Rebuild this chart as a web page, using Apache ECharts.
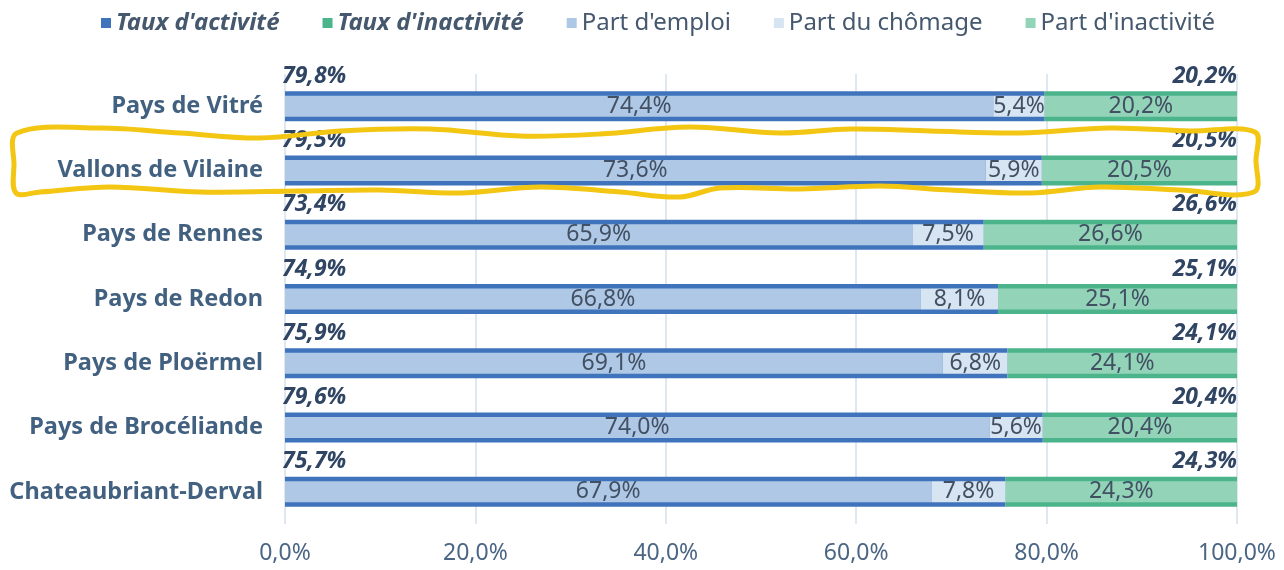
<!DOCTYPE html>
<html>
<head>
<meta charset="utf-8">
<script src="https://cdn.jsdelivr.net/npm/echarts@6/dist/echarts.min.js"></script>
<style>
  html, body { margin: 0; padding: 0; background: #fff; }
  #chart { width: 1284px; height: 570px; }
</style>
</head>
<body>
<div id="chart"></div>
<script>
// Categories, top to bottom
const territoires = [
  'Pays de Vitré',
  'Vallons de Vilaine',
  'Pays de Rennes',
  'Pays de Redon',
  'Pays de Ploërmel',
  'Pays de Brocéliande',
  'Chateaubriant-Derval'
]

// Outer bars (rates)
const tauxActivite = [79.8, 79.5, 73.4, 74.9, 75.9, 79.6, 75.7]
const tauxInactivite = [20.2, 20.5, 26.6, 25.1, 24.1, 20.4, 24.3]

// Inner bars (shares)
const partEmploi = [74.4, 73.6, 65.9, 66.8, 69.1, 74.0, 67.9]
const partChomage = [5.4, 5.9, 7.5, 8.1, 6.8, 5.6, 7.8]
const partInactivite = [20.2, 20.5, 26.6, 25.1, 24.1, 20.4, 24.3]

const xTicks = [0, 20, 40, 60, 80, 100]

const FONT = '"Noto Sans", "Open Sans", sans-serif'
const fmt = v => v.toFixed(1).replace('.', ',') + '%'

const chart = echarts.init(document.getElementById('chart'))

const innerLabel = {
  show: true,
  position: 'inside',
  color: '#415063',
  fontFamily: FONT,
  fontSize: 23,
  formatter: p => fmt(p.value)
}

const tauxLabel = {
  show: true,
  color: '#2f4563',
  fontFamily: FONT,
  fontSize: 23,
  fontWeight: 'bold',
  fontStyle: 'italic',
  verticalAlign: 'middle',
  formatter: p => fmt(p.value)
}

chart.setOption({
  animation: false,
  textStyle: { fontFamily: FONT },
  legend: {
    top: 6,
    left: 96,
    itemWidth: 10,
    itemHeight: 10,
    itemGap: 43,
    icon: 'rect',
    textStyle: { color: '#45586e', fontSize: 24, fontFamily: FONT },
    data: [
      { name: "Taux d'activité", textStyle: { fontWeight: 'bold', fontStyle: 'italic' } },
      { name: "Taux d'inactivité", textStyle: { fontWeight: 'bold', fontStyle: 'italic' } },
      { name: "Part d'emploi" },
      { name: 'Part du chômage' },
      { name: "Part d'inactivité" }
    ]
  },
  grid: { left: 285, right: 47, top: 74, bottom: 46 },
  xAxis: {
    type: 'value',
    min: xTicks[0],
    max: xTicks[xTicks.length - 1],
    interval: 20,
    axisLine: { show: false },
    axisTick: { show: false },
    splitLine: { lineStyle: { color: '#d5dfeb', width: 1.5 } },
    axisLabel: {
      color: '#4b6584',
      fontSize: 23,
      margin: 18,
      formatter: v => fmt(v)
    }
  },
  yAxis: [
    {
      type: 'category',
      data: territoires,
      inverse: true,
      axisLine: { show: false },
      axisTick: { show: false },
      axisLabel: {
        color: '#42607f',
        fontSize: 23.5,
        fontWeight: 'bold',
        margin: 22
      }
    },
    {
      type: 'category',
      data: territoires,
      inverse: true,
      show: false
    }
  ],
  series: [
    {
      name: "Taux d'activité",
      type: 'bar',
      stack: 'taux',
      yAxisIndex: 0,
      barWidth: 30,
      itemStyle: { color: '#3f74bd' },
      label: Object.assign({}, tauxLabel, { position: [-3, -15], align: 'left' }),
      data: tauxActivite
    },
    {
      name: "Taux d'inactivité",
      type: 'bar',
      stack: 'taux',
      yAxisIndex: 0,
      barWidth: 30,
      itemStyle: { color: '#4cb48b' },
      label: Object.assign({}, tauxLabel, { position: ['100%', -15], align: 'right' }),
      data: tauxInactivite
    },
    {
      name: "Part d'emploi",
      type: 'bar',
      stack: 'part',
      yAxisIndex: 1,
      barWidth: 21,
      itemStyle: { color: '#afc8e6' },
      label: innerLabel,
      data: partEmploi
    },
    {
      name: 'Part du chômage',
      type: 'bar',
      stack: 'part',
      yAxisIndex: 1,
      barWidth: 21,
      itemStyle: { color: '#d7e4f2' },
      label: innerLabel,
      data: partChomage
    },
    {
      name: "Part d'inactivité",
      type: 'bar',
      stack: 'part',
      yAxisIndex: 1,
      barWidth: 21,
      itemStyle: { color: '#93d4b9' },
      label: innerLabel,
      data: partInactivite
    }
  ],
  // hand-drawn yellow highlight around the second row
  graphic: [{
    type: 'polygon',
    z: 100,
    shape: {
      smooth: 0.35,
      points: [
        [17, 133], [100, 128], [180, 133], [260, 138], [340, 131], [430, 129],
        [520, 136], [600, 134], [690, 127], [780, 133], [850, 129], [930, 131],
        [1020, 133], [1110, 128], [1190, 131], [1255, 132],
        [1256, 160], [1254, 192],
        [1180, 190], [1100, 187], [1030, 193], [950, 190], [880, 186], [800, 189],
        [720, 188], [680, 197], [620, 192], [540, 187], [460, 193], [380, 190],
        [300, 191], [200, 192], [110, 187], [40, 192], [16, 193],
        [14, 165]
      ]
    },
    style: { fill: 'none', stroke: '#f3c614', lineWidth: 5 }
  }]
})
</script>
</body>
</html>
